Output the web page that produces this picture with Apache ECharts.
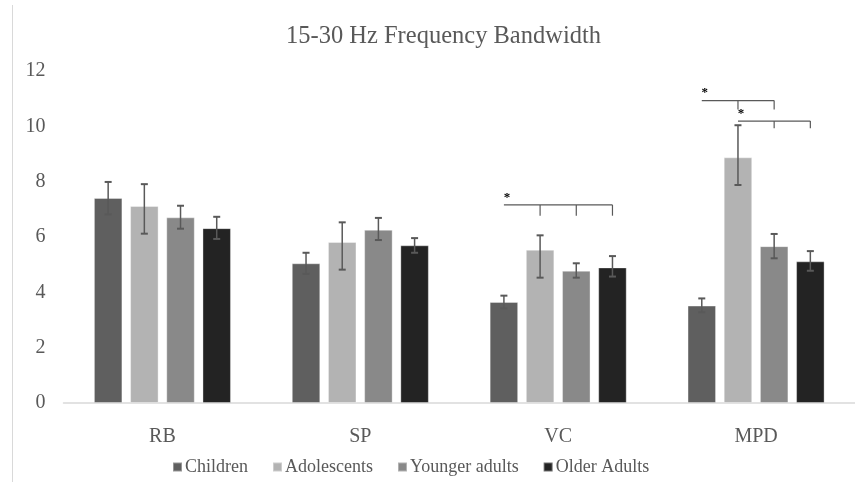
<!DOCTYPE html>
<html><head><meta charset="utf-8">
<script src="https://cdn.jsdelivr.net/npm/echarts@6/dist/echarts.min.js"></script>
<style>html,body{margin:0;padding:0;background:#fff}#c{width:855px;height:482px}</style>
</head><body><div id="c"></div>
<script>
// ---- data ----
const categories = ['RB', 'SP', 'VC', 'MPD'];
const seriesNames = ['Children', 'Adolescents', 'Younger adults', 'Older Adults'];
const children      = [7.41, 5.05, 3.65, 3.52];
const adolescents   = [7.12, 5.82, 5.54, 8.88];
const youngerAdults = [6.71, 6.26, 4.78, 5.67];
const olderAdults   = [6.32, 5.70, 4.90, 5.12];
const childrenErrLow       = [6.82, 4.67, 3.42, 3.28];
const childrenErrHigh      = [7.99, 5.43, 3.88, 3.78];
const adolescentsErrLow    = [6.12, 4.82, 4.53, 7.88];
const adolescentsErrHigh   = [7.91, 6.53, 6.06, 10.04];
const youngerAdultsErrLow  = [6.30, 5.89, 4.53, 5.23];
const youngerAdultsErrHigh = [7.13, 6.69, 5.05, 6.11];
const olderAdultsErrLow    = [5.93, 5.43, 4.57, 4.78];
const olderAdultsErrHigh   = [6.73, 5.96, 5.31, 5.49];
const yTicks = [0, 2, 4, 6, 8, 10, 12];
// significance brackets: [category index, start series, end series, line value, tick end value]
const brackets = [
  [2, 0, 3, 7.16, 6.77],
  [3, 0, 2, 10.93, 10.61],
  [3, 1, 3, 10.19, 9.93]
];

// ---- styling / layout ----
const colors = ['#5f5f5f', '#b3b3b3', '#898989', '#232323'];
const BAR_FRAC = 0.144;
const GAP_FRAC = 0.27;
const FONT = 'Liberation Serif, Times New Roman, serif';
const values = [children, adolescents, youngerAdults, olderAdults];
const lows = [childrenErrLow, adolescentsErrLow, youngerAdultsErrLow, olderAdultsErrLow];
const highs = [childrenErrHigh, adolescentsErrHigh, youngerAdultsErrHigh, olderAdultsErrHigh];

function barX(api, cat, s) {
  const band = api.size([1, 0])[0];
  const bw = band * BAR_FRAC;
  const step = bw * (1 + GAP_FRAC);
  return api.coord([cat, 0])[0] + (s - 1.5) * step;
}

const series = [];
values.forEach((v, i) => {
  series.push({
    name: seriesNames[i], type: 'bar', data: v,
    barWidth: (BAR_FRAC * 100) + '%', barGap: (GAP_FRAC * 100) + '%',
    itemStyle: { color: colors[i], borderColor: 'rgba(255,255,255,0.35)', borderWidth: 1 },
    z: 2
  });
});
values.forEach((v, i) => {
  series.push({
    type: 'custom', z: 5, silent: true,
    data: categories.map((c, k) => [k, lows[i][k], highs[i][k]]),
    encode: { x: 0, y: [1, 2] },
    renderItem: (params, api) => {
      const cat = api.value(0);
      const x = barX(api, cat, i);
      const yl = api.coord([cat, api.value(1)])[1];
      const yh = api.coord([cat, api.value(2)])[1];
      const hw = 3.5;
      const st = { stroke: '#595959', lineWidth: 1.5 };
      return { type: 'group', children: [
        { type: 'line', shape: { x1: x, y1: yl, x2: x, y2: yh }, style: st },
        { type: 'line', shape: { x1: x - hw, y1: yl, x2: x + hw, y2: yl }, style: { stroke: '#595959', lineWidth: 2 } },
        { type: 'line', shape: { x1: x - hw, y1: yh, x2: x + hw, y2: yh }, style: { stroke: '#595959', lineWidth: 2 } }
      ]};
    }
  });
});
series.push({
  type: 'custom', z: 6, silent: true,
  data: brackets,
  encode: { x: 0, y: 3 },
  renderItem: (params, api) => {
    const cat = api.value(0), s0 = api.value(1), s1 = api.value(2);
    const yL = api.coord([cat, api.value(3)])[1];
    const yT = api.coord([cat, api.value(4)])[1];
    const x0 = barX(api, cat, s0), x1 = barX(api, cat, s1);
    const st = { stroke: '#595959', lineWidth: 1.2 };
    const ch = [{ type: 'line', shape: { x1: x0, y1: yL, x2: x1, y2: yL }, style: st }];
    for (let s = s0 + 1; s <= s1; s++) {
      const x = barX(api, cat, s);
      ch.push({ type: 'line', shape: { x1: x, y1: yL, x2: x, y2: yT }, style: st });
    }
    ch.push({ type: 'text', x: x0 + 3, y: yL - 1, style: { text: '*', fill: '#000', font: 'bold 13px ' + FONT, align: 'center', verticalAlign: 'bottom' } });
    return { type: 'group', children: ch };
  }
});

const chart = echarts.init(document.getElementById('c'));
chart.setOption({
  animation: false,
  backgroundColor: '#fff',
  title: { text: '15-30 Hz Frequency Bandwidth', left: 281, top: 19,
    textStyle: { fontFamily: FONT, fontSize: 24.5, fontWeight: 'normal', color: '#595959' } },
  legend: { data: seriesNames, left: 167, top: 453, icon: 'rect', itemWidth: 9, itemHeight: 9, itemGap: 24,
    textStyle: { fontFamily: FONT, fontSize: 18, color: '#595959', padding: [0, 0, 0, -2] } },
  grid: { left: 63.5, right: 0, top: 71, bottom: 79 },
  xAxis: { type: 'category', data: categories,
    axisLine: { lineStyle: { color: '#d9d9d9', width: 1.5 } }, axisTick: { show: false },
    axisLabel: { fontFamily: FONT, fontSize: 20, color: '#595959', margin: 24 } },
  yAxis: { type: 'value', min: yTicks[0], max: yTicks[yTicks.length - 1], interval: yTicks[1] - yTicks[0],
    axisLine: { show: false }, axisTick: { show: false }, splitLine: { show: false },
    axisLabel: { fontFamily: FONT, fontSize: 20, color: '#595959', margin: 18 } },
  graphic: [{ type: 'line', shape: { x1: 12.5, y1: 5, x2: 12.5, y2: 482 }, style: { stroke: '#d9d9d9', lineWidth: 1 } }],
  series: series
});
</script></body></html>
